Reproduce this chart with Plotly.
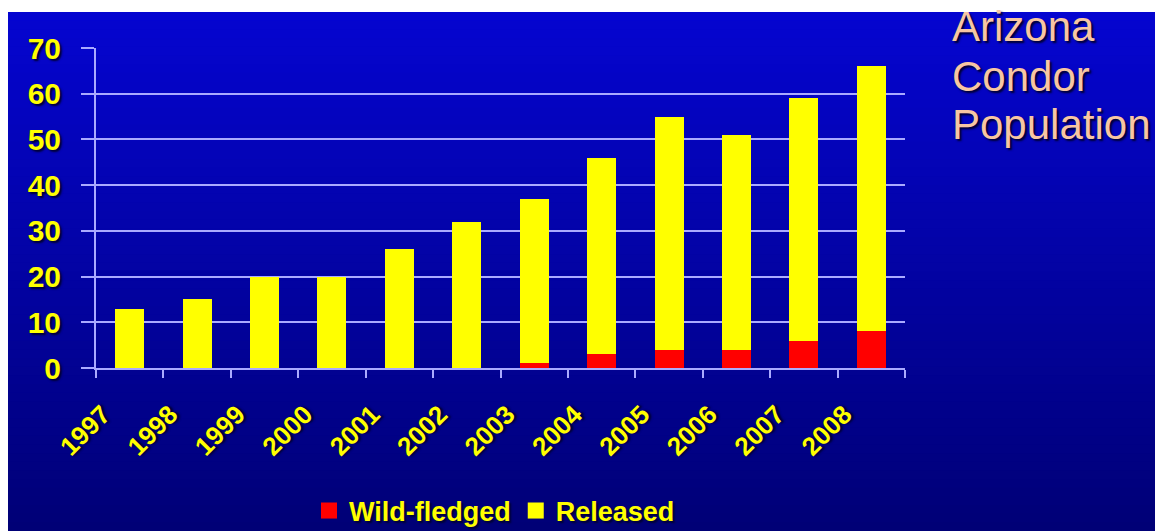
import plotly.graph_objects as go

years = ["1997", "1998", "1999", "2000", "2001", "2002",
         "2003", "2004", "2005", "2006", "2007", "2008"]
wild_fledged = [0, 0, 0, 0, 0, 0, 1, 3, 4, 4, 6, 8]
released = [13, 15, 20, 20, 26, 32, 36, 43, 51, 47, 53, 58]
y_ticks = [0, 10, 20, 30, 40, 50, 60, 70]
title_lines = ["Arizona", "Condor", "Population"]

W, H = 1155, 531
ML, MR, MT, MB = 96, 250, 48, 163
PW, PH = W - ML - MR, H - MT - MB

YELLOW = "#ffff00"
RED = "#ff0000"
GRID = "#aaaaff"
FONT = "Liberation Sans, Arial, sans-serif"
SHADOW = "2px 2px 2px #000033"

fig = go.Figure()
fig.add_trace(go.Bar(x=years, y=wild_fledged, name="Wild-fledged",
                     marker=dict(color=RED, line=dict(width=0)), showlegend=False))
fig.add_trace(go.Bar(x=years, y=released, name="Released",
                     marker=dict(color=YELLOW, line=dict(width=0)), showlegend=False))
# legend proxies
fig.add_trace(go.Scatter(x=[None], y=[None], mode="markers", name="Wild-fledged",
                         marker=dict(symbol="square", size=16, color=RED)))
fig.add_trace(go.Scatter(x=[None], y=[None], mode="markers", name="Released",
                         marker=dict(symbol="square", size=16, color=YELLOW)))


def px_x(p):
    return (p - ML) / PW


def px_y(p):
    return (H - MB - p) / PH


# background gradient (decoration)
shapes = []
N = 60
top_c = (5, 5, 208)
bot_c = (0, 0, 118)
y_start, y_end = 12, H
for i in range(N):
    t = i / (N - 1)
    c = tuple(int(round(top_c[k] + (bot_c[k] - top_c[k]) * t)) for k in range(3))
    ya = y_start + (y_end - y_start) * i / N
    yb = y_start + (y_end - y_start) * (i + 1) / N + 1
    shapes.append(dict(type="rect", xref="paper", yref="paper", layer="below",
                       x0=px_x(8), x1=px_x(W + 2), y0=px_y(min(yb, H + 2)), y1=px_y(ya),
                       fillcolor="rgb(%d,%d,%d)" % c, line=dict(width=0)))

baselines = [43, 93, 141]
annotations = []
for line, b in zip(title_lines, baselines):
    annotations.append(dict(text=line, xref="paper", yref="paper",
                            x=px_x(950), y=px_y(b + 9), xanchor="left", yanchor="bottom",
                            align="left", showarrow=False,
                            font=dict(family=FONT, size=42, color="#f7c6a3",
                                      shadow="2px 2px 2px #000033")))

fig.update_layout(
    width=W, height=H,
    margin=dict(l=ML, r=MR, t=MT, b=MB, autoexpand=False),
    paper_bgcolor="white",
    plot_bgcolor="rgba(0,0,0,0)",
    barmode="stack",
    bargap=0.57,
    shapes=shapes,
    showlegend=True,
    legend=dict(orientation="h", x=px_x(309), xanchor="left", y=px_y(511), yanchor="middle",
                bgcolor="rgba(0,0,0,0)", traceorder="normal",
                font=dict(family=FONT, size=27, color=YELLOW, weight="bold", shadow=SHADOW),
                itemsizing="trace"),
    xaxis=dict(showgrid=False, showline=True, linecolor=GRID, linewidth=2,
               ticks="outside", tickson="boundaries", ticklen=8, tickwidth=2, tickcolor=GRID,
               tickangle=-45,
               tickfont=dict(family=FONT, size=26, color=YELLOW, weight="bold", shadow=SHADOW),
               ticklabelstandoff=19, ticklabelshift=-27, fixedrange=True),
    yaxis=dict(range=[0, 70], tickvals=y_ticks, showgrid=True, gridcolor=GRID, gridwidth=2,
               showline=True, linecolor=GRID, linewidth=2, zeroline=False,
               ticks="outside", ticklen=13, tickwidth=2, tickcolor=GRID,
               tickfont=dict(family=FONT, size=30, color=YELLOW, weight="bold", shadow=SHADOW),
               ticklabelstandoff=14, fixedrange=True),
    annotations=annotations,
)

fig.write_html("out.html", config={"displayModeBar": False})
